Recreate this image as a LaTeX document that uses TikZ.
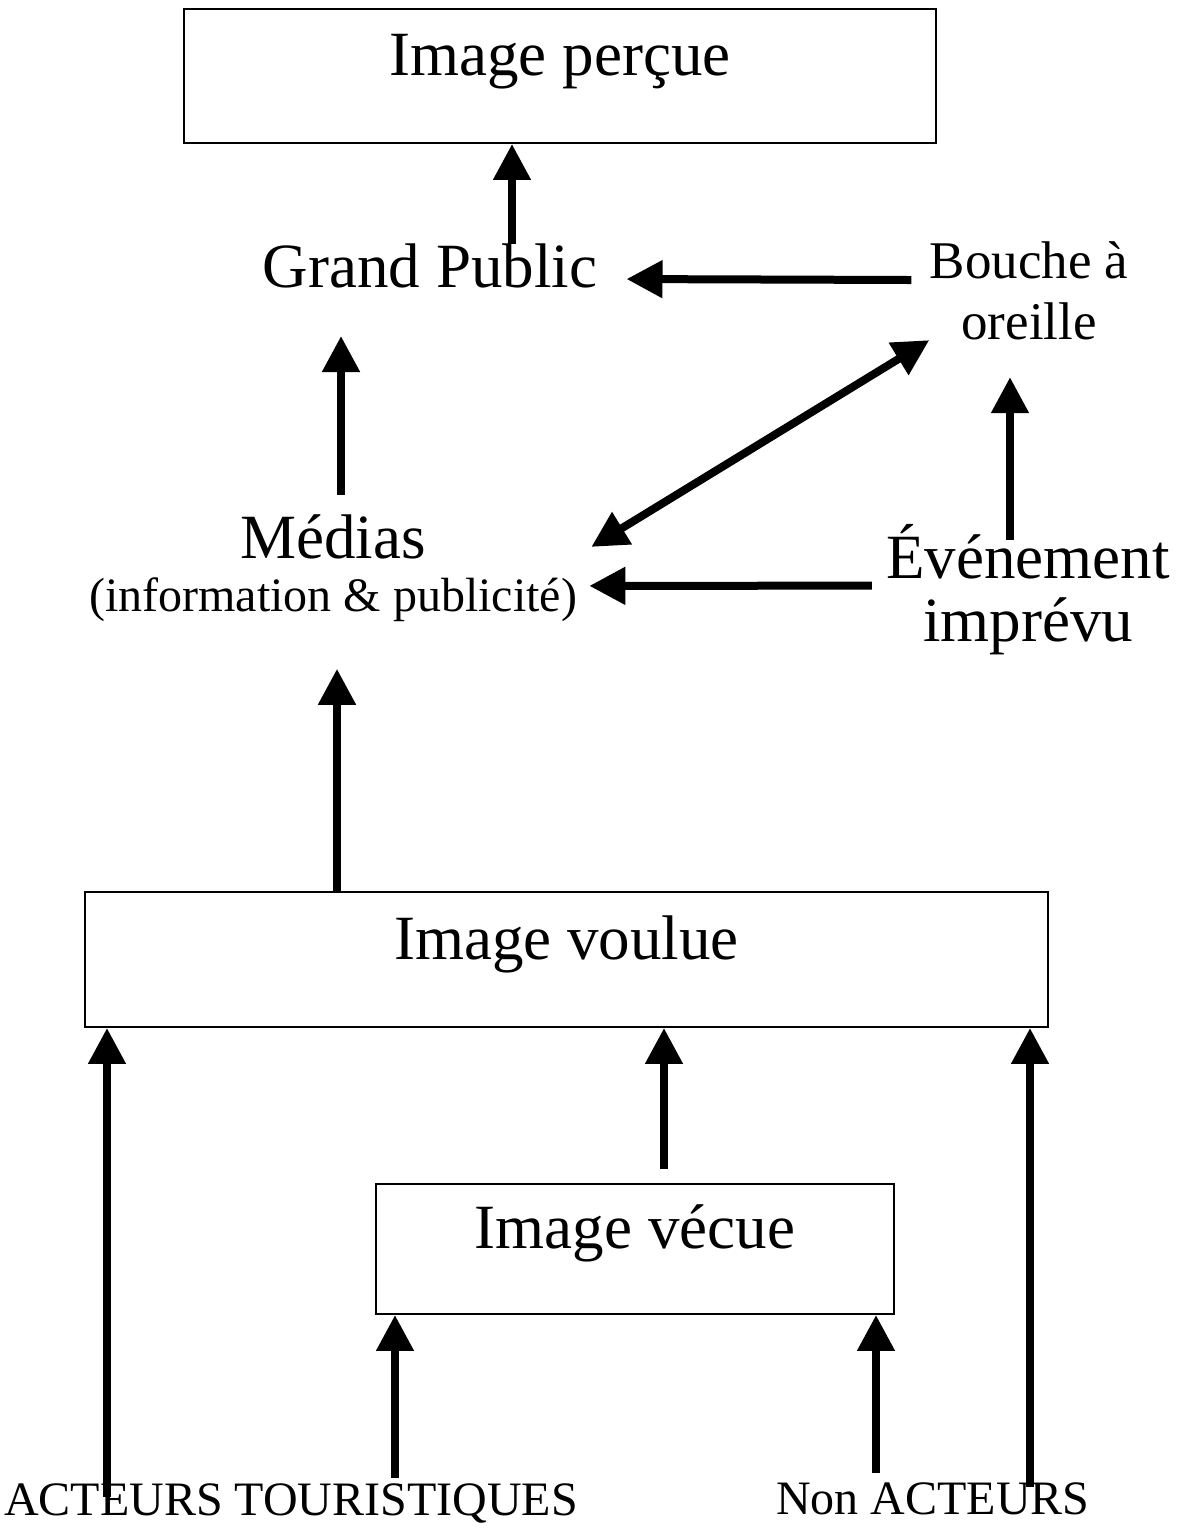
\documentclass[tikz,border=0pt]{standalone}
\usepackage{fontspec}
\setmainfont{Liberation Serif}
\usepackage{tikz}
\usetikzlibrary{arrows.meta}
\newcommand{\bigtxt}{\fontsize{31.5}{38}\selectfont}
\newcommand{\midtxt}{\fontsize{26.5}{30.5}\selectfont}
\newcommand{\smalltxt}{\fontsize{24}{28}\selectfont}
\begin{document}
\begin{tikzpicture}[x=0.5pt,y=0.5pt,
>={Triangle[length=18pt,width=18pt]},
box/.style={draw,line width=1pt,inner sep=0pt,text height=22pt,text depth=22pt,font=\bigtxt},
lbl/.style={inner sep=0pt},
arr/.style={line width=4pt,->},
darr/.style={line width=4pt,<->}]
\useasboundingbox (0,0) rectangle (1192,1528);

% boxes
\node (percue) [box,minimum width=376pt,minimum height=67pt] at (560,1452) {Image perçue};
\node (voulue) [box,minimum width=481.5pt,minimum height=67.5pt] at (566.5,568.5) {Image voulue};
\node (vecue) [box,minimum width=259pt,minimum height=65pt] at (635,279) {Image vécue};

% labels
\node (grand) [lbl,anchor=base,font=\bigtxt] at (430,1240) {Grand Public};
\node (bouche) [lbl,anchor=north,align=center,font=\midtxt] at (1029,1287) {Bouche à\\oreille};
\node (medias) [lbl,anchor=north,align=center,font=\fontsize{31.5}{26.5}\selectfont] at (333,1014)
      {Médias\\{\smalltxt (information \& publicité)}};
\node (evenement) [lbl,anchor=north,align=center,font=\fontsize{31.5}{31.5}\selectfont] at (1028,1004)
      {Événement\\imprévu};
\node (acteurs) [lbl,anchor=base,font=\smalltxt] at (291,12) {ACTEURS TOURISTIQUES};
\node (nonact) [lbl,anchor=base,font=\smalltxt] at (933,13) {Non ACTEURS};

\draw[arr] ([xshift=41pt]grand.north) -- ([xshift=-24pt]percue.south);
\draw[arr,shorten <=9.5pt,shorten >=23.5pt] ([xshift=4pt]medias.north) -- ([xshift=-44.5pt]grand.south);
\draw[arr,shorten <=9pt,shorten >=14.5pt] ([yshift=5.25pt]bouche.west) -- ([yshift=-6.25pt]grand.east);
\draw[darr] ([xshift=7pt,yshift=10.5pt]medias.east) -- (bouche.south west);
\draw[arr,shorten <=-8pt,shorten >=18.5pt] ([xshift=-9pt]evenement.north) -- ([xshift=-9.5pt]bouche.south);
\draw[arr,shorten <=7pt,shorten >=6pt] ([yshift=2pt]evenement.west) -- ([yshift=-9pt]medias.east);
\draw[arr,shorten >=23.5pt] ([xshift=-114.75pt]voulue.north) -- ([xshift=2pt]medias.south);
\draw[arr,shorten <=7pt] ([xshift=14.5pt]vecue.north) -- ([xshift=48.75pt]voulue.south);
\draw[arr,shorten <=-6.5pt] ([xshift=-92pt]acteurs.north) -- ([xshift=-229.75pt]voulue.south);
\draw[arr,shorten <=-2pt] ([xshift=48.5pt]nonact.north) -- ([xshift=231.75pt]voulue.south);
\draw[arr,shorten <=3pt] ([xshift=52pt]acteurs.north) -- ([xshift=-120pt]vecue.south);
\draw[arr,shorten <=5pt] ([xshift=-28.5pt]nonact.north) -- ([xshift=120.5pt]vecue.south);
\end{tikzpicture}
\end{document}
